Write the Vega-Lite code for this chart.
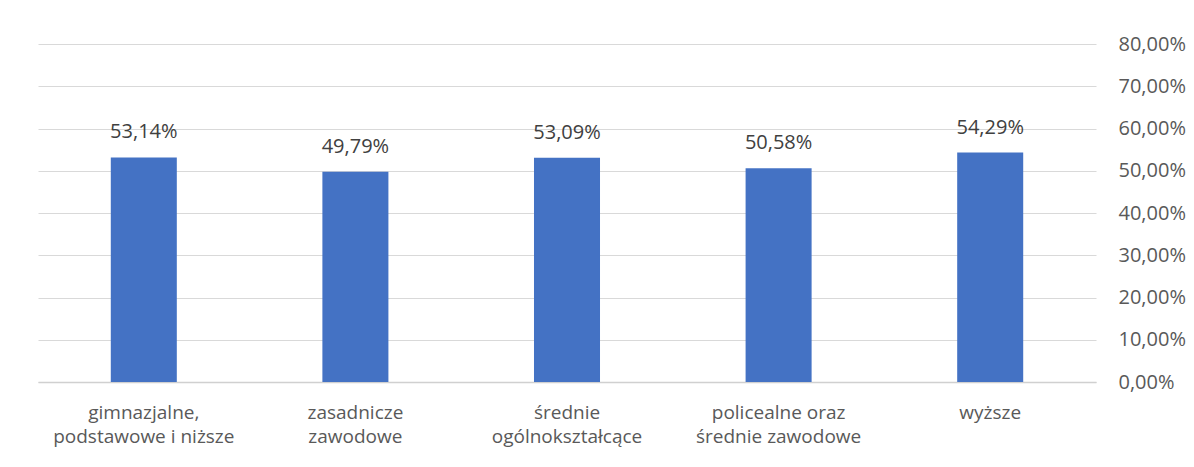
{
  "$schema": "https://vega.github.io/schema/vega-lite/v6.json",
  "autosize": {"type": "none"},
  "width": 1058,
  "height": 338,
  "padding": {"left": 38, "top": 44, "right": 98, "bottom": 85},
  "background": "white",
  "config": {
    "locale": {"number": {"decimal": ",", "thousands": " ", "grouping": [3], "currency": ["", " zł"]}},
    "view": {"stroke": null},
    "font": "Open Sans"
  },
  "data": {
    "values": [
      {"kategoria": "gimnazjalne,\npodstawowe i niższe", "wartosc": 0.5314},
      {"kategoria": "zasadnicze\nzawodowe", "wartosc": 0.4979},
      {"kategoria": "średnie\nogólnokształcące", "wartosc": 0.5309},
      {"kategoria": "policealne oraz\nśrednie zawodowe", "wartosc": 0.5058},
      {"kategoria": "wyższe", "wartosc": 0.5429}
    ]
  },
  "encoding": {
    "x": {
      "field": "kategoria",
      "type": "nominal",
      "sort": null,
      "scale": {"paddingInner": 0.688, "paddingOuter": 0.344},
      "axis": {
        "title": null,
        "labelAngle": 0,
        "labelExpr": "split(datum.label, '\\n')",
        "labelFont": "Open Sans",
        "labelFontSize": 19,
        "labelColor": "#595959",
        "labelLineHeight": 24,
        "labelPadding": 21,
        "labelBaseline": "top",
        "labelOverlap": false,
        "labelLimit": 0,
        "ticks": false,
        "domain": true,
        "domainColor": "#d0d0d0",
        "domainWidth": 1.5
      }
    },
    "y": {
      "field": "wartosc",
      "type": "quantitative",
      "scale": {"domain": [0, 0.8], "nice": false},
      "axis": {
        "orient": "right",
        "title": null,
        "values": [0, 0.1, 0.2, 0.3, 0.4, 0.5, 0.6, 0.7, 0.8],
        "format": ".2%",
        "labelFont": "Open Sans",
        "labelFontSize": 20,
        "labelColor": "#595959",
        "labelPadding": 22,
        "ticks": false,
        "domain": false,
        "grid": true,
        "gridColor": "#d9d9d9",
        "gridWidth": 1
      }
    }
  },
  "layer": [
    {"mark": {"type": "bar", "color": "#4472C4"}},
    {
      "mark": {"type": "text", "dy": -19, "baseline": "alphabetic", "fontSize": 20, "font": "Open Sans", "color": "#404040"},
      "encoding": {"text": {"field": "wartosc", "type": "quantitative", "format": ".2%"}}
    }
  ]
}
